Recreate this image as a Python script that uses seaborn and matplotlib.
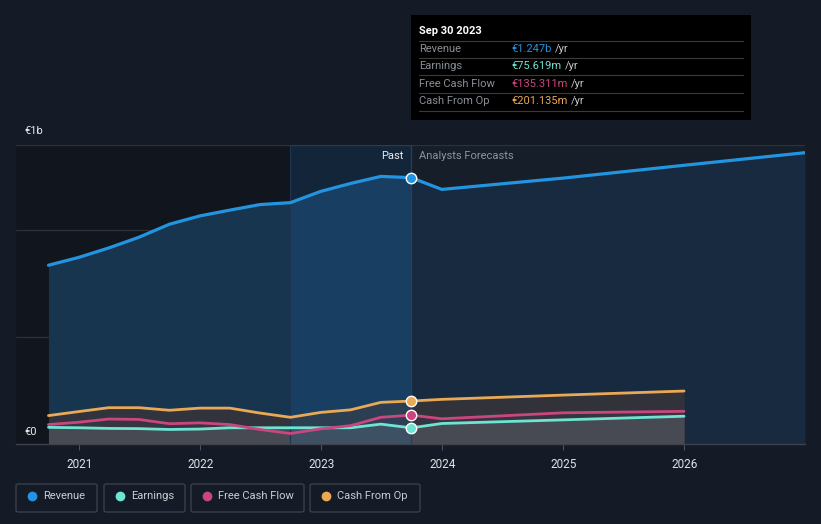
import numpy as np
import pandas as pd
import matplotlib.pyplot as plt
from matplotlib.patches import FancyBboxPatch, Rectangle
import seaborn as sns

# Data (values in € millions)
past_dates = ['2020-09-30', '2020-12-31', '2021-03-31', '2021-06-30', '2021-09-30',
              '2021-12-31', '2022-03-31', '2022-06-30', '2022-09-30', '2022-12-31',
              '2023-03-31', '2023-06-30', '2023-09-30']
revenue_past = [837, 874, 918, 968, 1029, 1068, 1095, 1121, 1130, 1183, 1220, 1253, 1247]
earnings_past = [78, 76, 73, 72, 68, 70, 76, 76, 76, 76, 76, 93, 75.6]
fcf_past = [91, 102, 117, 115, 95, 99, 91, 68, 49, 71, 86, 125, 135.3]
cfo_past = [133, 152, 170, 170, 158, 168, 168, 145, 125, 148, 160, 195, 201.1]

fc_dates = ['2023-12-31', '2024-12-31', '2025-12-31']
revenue_fc = [1192, 1245, 1305, 1364]
rev_fc_dates = fc_dates + ['2026-12-31']
earnings_fc = [96, 113, 130]
fcf_fc = [118, 146, 153]
cfo_fc = [209, 229, 248]

series_names = ['Revenue', 'Earnings', 'Free Cash Flow', 'Cash From Op']
series_colors = ['#2394df', '#6ee4d3', '#c9467f', '#e9a955']
tooltip_values = ['€1.247b', '€75.619m', '€135.311m', '€201.135m']
year_ticks = [2021, 2022, 2023, 2024, 2025, 2026]

BG = '#151b26'

sns.set_theme(style='dark')
plt.rcParams['font.family'] = ['Roboto', 'DejaVu Sans']

fig = plt.figure(figsize=(8.21, 5.24), dpi=100, facecolor=BG)
W, H = 821, 524
ax = fig.add_axes([16 / W, (H - 444) / H, (805 - 16) / W, (444 - 145) / H])
ax.set_facecolor(BG)

past_x = pd.to_datetime(past_dates)
split = past_x[-1]
rev_x = past_x.append(pd.to_datetime(rev_fc_dates))
oth_x = past_x.append(pd.to_datetime(fc_dates))
revenue = revenue_past + revenue_fc
earnings = earnings_past + earnings_fc
fcf = fcf_past + fcf_fc
cfo = cfo_past + cfo_fc

x0 = pd.Timestamp('2020-06-24')
x1 = pd.Timestamp('2026-12-31')

# background regions
ax.axvspan(x0, split, color='#11161e', zorder=0, lw=0)
ax.axvspan(split, x1, color='#161e2a', zorder=0, lw=0)

# grid lines
for yv in [500, 1000, 1400]:
    ax.axhline(yv, color='#2b323d', lw=0.9, zorder=1)

# area fills
ax.fill_between(rev_x, revenue, 0, where=rev_x <= split, color='#183550', lw=0, zorder=2)
ax.fill_between(rev_x, revenue, 0, where=rev_x >= split, color='#172a3f', lw=0, zorder=2)
ax.fill_between(oth_x, cfo, 0, color='#34343a', alpha=0.9, lw=0, zorder=3)
ax.fill_between(oth_x, fcf, 0, color='#3a3843', alpha=0.6, lw=0, zorder=3)
ax.fill_between(oth_x, earnings, 0, color='#4a4d56', alpha=0.9, lw=0, zorder=3)

# highlight band for the last year of history
ax.axvspan(pd.Timestamp('2022-09-30'), split, color='#1c6aa8', alpha=0.2, zorder=4, lw=0)
ax.axvline(pd.Timestamp('2022-09-30'), color='#1d3550', lw=0.8, zorder=4)
ax.axvline(split, color='#2c3e52', lw=0.9, zorder=4)

# lines
all_y = [revenue, earnings, fcf, cfo]
all_x = [rev_x, oth_x, oth_x, oth_x]
widths = [2.3, 2.0, 2.0, 2.0]
for xs, ys, c, lw in zip(all_x, all_y, series_colors, widths):
    sns.lineplot(x=xs, y=ys, ax=ax, color=c, lw=lw, zorder=5, sort=True)

# markers at last reported point
for ys, c in zip([revenue_past, earnings_past, fcf_past, cfo_past], series_colors):
    ax.plot([split], [ys[-1]], 'o', ms=7.5, mfc=c, mec='white', mew=1.0, zorder=6)

ax.set_xlim(x0, x1)
ax.set_ylim(0, 1400)
ax.set_yticks([])
ax.set_xticks([pd.Timestamp(f'{y}-01-01') for y in year_ticks])
ax.set_xticklabels([str(y) for y in year_ticks])
ax.tick_params(axis='x', colors='#4a515c', labelcolor='#dfe2e6', labelsize=8.5,
               length=4, width=0.8, direction='out', pad=6, bottom=True)
for s in ['top', 'left', 'right']:
    ax.spines[s].set_visible(False)
ax.spines['bottom'].set_color('#3b424d')
ax.spines['bottom'].set_linewidth(1.0)
ax.set_xlabel('')
ax.set_ylabel('')
ax.grid(False)

# axis value labels
fig.text(24 / W, 1 - 131 / H, '€1b', color='#e8eaed', fontsize=8, va='center', ha='left')
fig.text(24 / W, 1 - 432 / H, '€0', color='#e8eaed', fontsize=8, va='center', ha='left')

# Past / forecast labels
fig.text(403 / W, 1 - 156 / H, 'Past', color='#e8eaed', fontsize=8, va='center', ha='right')
fig.text(419 / W, 1 - 156 / H, 'Analysts Forecasts', color='#8f949c', fontsize=8,
         va='center', ha='left')

# tooltip
fig.patches.append(Rectangle((411 / W, 1 - 120 / H), 340 / W, 105 / H,
                             transform=fig.transFigure, facecolor='#000000',
                             edgecolor='none', zorder=10))
fig.text(419 / W, 1 - 31 / H, 'Sep 30 2023', color='white', fontsize=8,
         fontweight='semibold', va='center', ha='left', zorder=11)
for yp in [41, 58, 75, 93, 111]:
    fig.lines.append(plt.Line2D([419 / W, 743 / W], [1 - yp / H, 1 - yp / H],
                                transform=fig.transFigure, color='#3a3a3a', lw=0.8, zorder=11))
row_y = [49, 66, 84, 101]
val_texts = []
for name, val, c, yp in zip(series_names, tooltip_values, series_colors, row_y):
    fig.text(419 / W, 1 - yp / H, name, color='#8a8f97', fontsize=8, va='center',
             ha='left', zorder=11)
    t = fig.text(511 / W, 1 - yp / H, val, color=c, fontsize=8, va='center',
                 ha='left', zorder=11)
    val_texts.append((t, yp))

# legend boxes
legend_boxes = [(16, 97), (104, 185), (191, 304), (310, 420)]
for (bx0, bx1), name, c in zip(legend_boxes, series_names, series_colors):
    fig.patches.append(FancyBboxPatch((bx0 / W, 1 - 512 / H), (bx1 - bx0) / W, 28 / H,
                                      boxstyle='round,pad=0,rounding_size=0.003',
                                      transform=fig.transFigure, facecolor='none',
                                      edgecolor='#3a404b', lw=1.0))
    fig.lines.append(plt.Line2D([(bx0 + 16) / W], [1 - 496 / H], marker='o', ms=6,
                                mfc=c, mec=c, transform=fig.transFigure))
    fig.text((bx0 + 27) / W, 1 - 496 / H, name, color='#c9cdd3', fontsize=8,
             va='center', ha='left')

# place '/yr' right after each coloured value
fig.canvas.draw()
renderer = fig.canvas.get_renderer()
for t, yp in val_texts:
    bb = t.get_window_extent(renderer)
    fig.text((bb.x1 + 4) / W, 1 - yp / H, '/yr', color='#c8c8c8', fontsize=8,
             va='center', ha='left', zorder=11)

fig.savefig('out.png', dpi=100, facecolor=BG)
